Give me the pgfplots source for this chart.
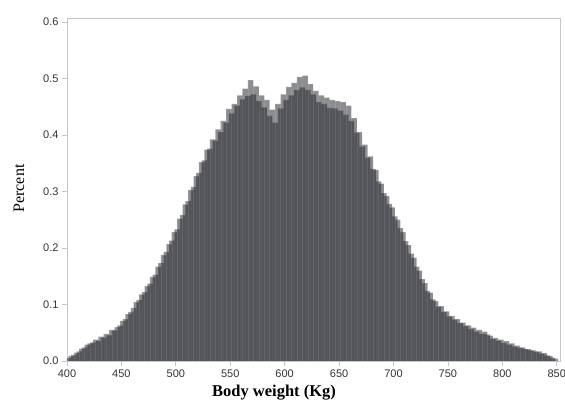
\documentclass[border=0pt]{standalone}
\usepackage{fontspec}
\setmainfont{Liberation Serif}
\newfontfamily\ticksf{Liberation Sans}
\usepackage{pgfplots}
\pgfplotsset{compat=1.18}
\definecolor{axisgray}{HTML}{C4C7C8}
\definecolor{tickgray}{HTML}{333333}
\definecolor{barfill}{RGB}{26,28,34}
\pgfplotsset{binbar/.style={bar shift=0pt, fill=barfill, fill opacity=0.5,
    draw=white, draw opacity=0.1, line width=0.4pt}}
\begin{document}
\begin{tikzpicture}
\begin{axis}[
    scale only axis,
    width=493pt, height=343pt,
    xmin=400, xmax=853,
    ymin=0, ymax=0.607,
    ybar, bar width=5,
    xtick={400,450,500,550,600,650,700,750,800,850},
    ytick={0,0.1,0.2,0.3,0.4,0.5,0.6},
    yticklabel style={/pgf/number format/.cd, fixed, fixed zerofill, precision=1},
    /pgf/number format/assume math mode=true,
    ticklabel style={font=\ticksf\fontsize{11pt}{13pt}\selectfont, text=tickgray},
    axis line style={draw=axisgray, line width=0.9pt},
    tick style={draw=axisgray, line width=0.7pt},
    major tick length=5pt,
    tick align=outside,
    xtick pos=bottom, ytick pos=left,
    every axis x label/.style={at={(axis description cs:0.42,-0.103)}, anchor=base,
        font=\fontsize{16.5pt}{18pt}\selectfont\bfseries},
    every axis y label/.style={at={(axis description cs:-0.0872,0.503)}, rotate=90, anchor=base,
        font=\fontsize{16pt}{18pt}\selectfont},
    xlabel={Body weight (Kg)},
    ylabel={Percent},
]
% bins split in two interleaved sets so that the overlapping halves darken
\addplot[binbar] coordinates {
(401.25,0.005) (406.25,0.011) (411.25,0.017) (416.25,0.024) (421.25,0.031)
(426.25,0.038) (431.25,0.043) (436.25,0.048) (441.25,0.055) (446.25,0.060)
(451.25,0.071) (456.25,0.083) (461.25,0.094) (466.25,0.108) (471.25,0.122)
(476.25,0.137) (481.25,0.153) (486.25,0.173) (491.25,0.193) (496.25,0.213)
(501.25,0.233) (506.25,0.258) (511.25,0.283) (516.25,0.308) (521.25,0.333)
(526.25,0.355) (531.25,0.376) (536.25,0.390) (541.25,0.405) (546.25,0.422)
(551.25,0.438) (556.25,0.452) (561.25,0.463) (566.25,0.469) (571.25,0.472)
(576.25,0.460) (581.25,0.449) (586.25,0.434) (591.25,0.422) (596.25,0.447)
(601.25,0.462) (606.25,0.470) (611.25,0.480) (616.25,0.484) (621.25,0.480)
(626.25,0.472) (631.25,0.458) (636.25,0.455) (641.25,0.448) (646.25,0.447)
(651.25,0.443) (656.25,0.436) (661.25,0.425) (666.25,0.404) (671.25,0.380)
(676.25,0.360) (681.25,0.340) (686.25,0.318) (691.25,0.297) (696.25,0.278)
(701.25,0.256) (706.25,0.235) (711.25,0.212) (716.25,0.190) (721.25,0.167)
(726.25,0.145) (731.25,0.124) (736.25,0.109) (741.25,0.096) (746.25,0.087)
(751.25,0.079) (756.25,0.073) (761.25,0.067) (766.25,0.062) (771.25,0.057)
(776.25,0.052) (781.25,0.048) (786.25,0.047) (791.25,0.039) (796.25,0.036)
(801.25,0.032) (806.25,0.029) (811.25,0.026) (816.25,0.023) (821.25,0.021)
(826.25,0.019) (831.25,0.016) (836.25,0.013) (841.25,0.010) (846.25,0.006)
};
\addplot[binbar] coordinates {
(403.75,0.009) (408.75,0.015) (413.75,0.022) (418.75,0.029) (423.75,0.033)
(428.75,0.036) (433.75,0.042) (438.75,0.046) (443.75,0.054) (448.75,0.063)
(453.75,0.074) (458.75,0.087) (463.75,0.104) (468.75,0.118) (473.75,0.133)
(478.75,0.149) (483.75,0.167) (488.75,0.188) (493.75,0.207) (498.75,0.228)
(503.75,0.252) (508.75,0.277) (513.75,0.303) (518.75,0.327) (523.75,0.352)
(528.75,0.374) (533.75,0.392) (538.75,0.410) (543.75,0.425) (548.75,0.446)
(553.75,0.455) (558.75,0.470) (563.75,0.482) (568.75,0.497) (573.75,0.486)
(578.75,0.470) (583.75,0.462) (588.75,0.445) (593.75,0.455) (598.75,0.472)
(603.75,0.485) (608.75,0.492) (613.75,0.503) (618.75,0.505) (623.75,0.490)
(628.75,0.478) (633.75,0.470) (638.75,0.466) (643.75,0.462) (648.75,0.460)
(653.75,0.458) (658.75,0.452) (663.75,0.430) (668.75,0.405) (673.75,0.383)
(678.75,0.362) (683.75,0.338) (688.75,0.314) (693.75,0.292) (698.75,0.272)
(703.75,0.250) (708.75,0.228) (713.75,0.205) (718.75,0.183) (723.75,0.160)
(728.75,0.138) (733.75,0.121) (738.75,0.106) (743.75,0.097) (748.75,0.088)
(753.75,0.080) (758.75,0.074) (763.75,0.068) (768.75,0.063) (773.75,0.059)
(778.75,0.055) (783.75,0.052) (788.75,0.045) (793.75,0.041) (798.75,0.038)
(803.75,0.035) (808.75,0.031) (813.75,0.027) (818.75,0.024) (823.75,0.021)
(828.75,0.019) (833.75,0.017) (838.75,0.014) (843.75,0.009) (848.75,0.004)
};
\end{axis}
\pgfresetboundingbox
\useasboundingbox (-67pt,-42pt) rectangle (498pt,361pt);
\end{tikzpicture}
\end{document}
